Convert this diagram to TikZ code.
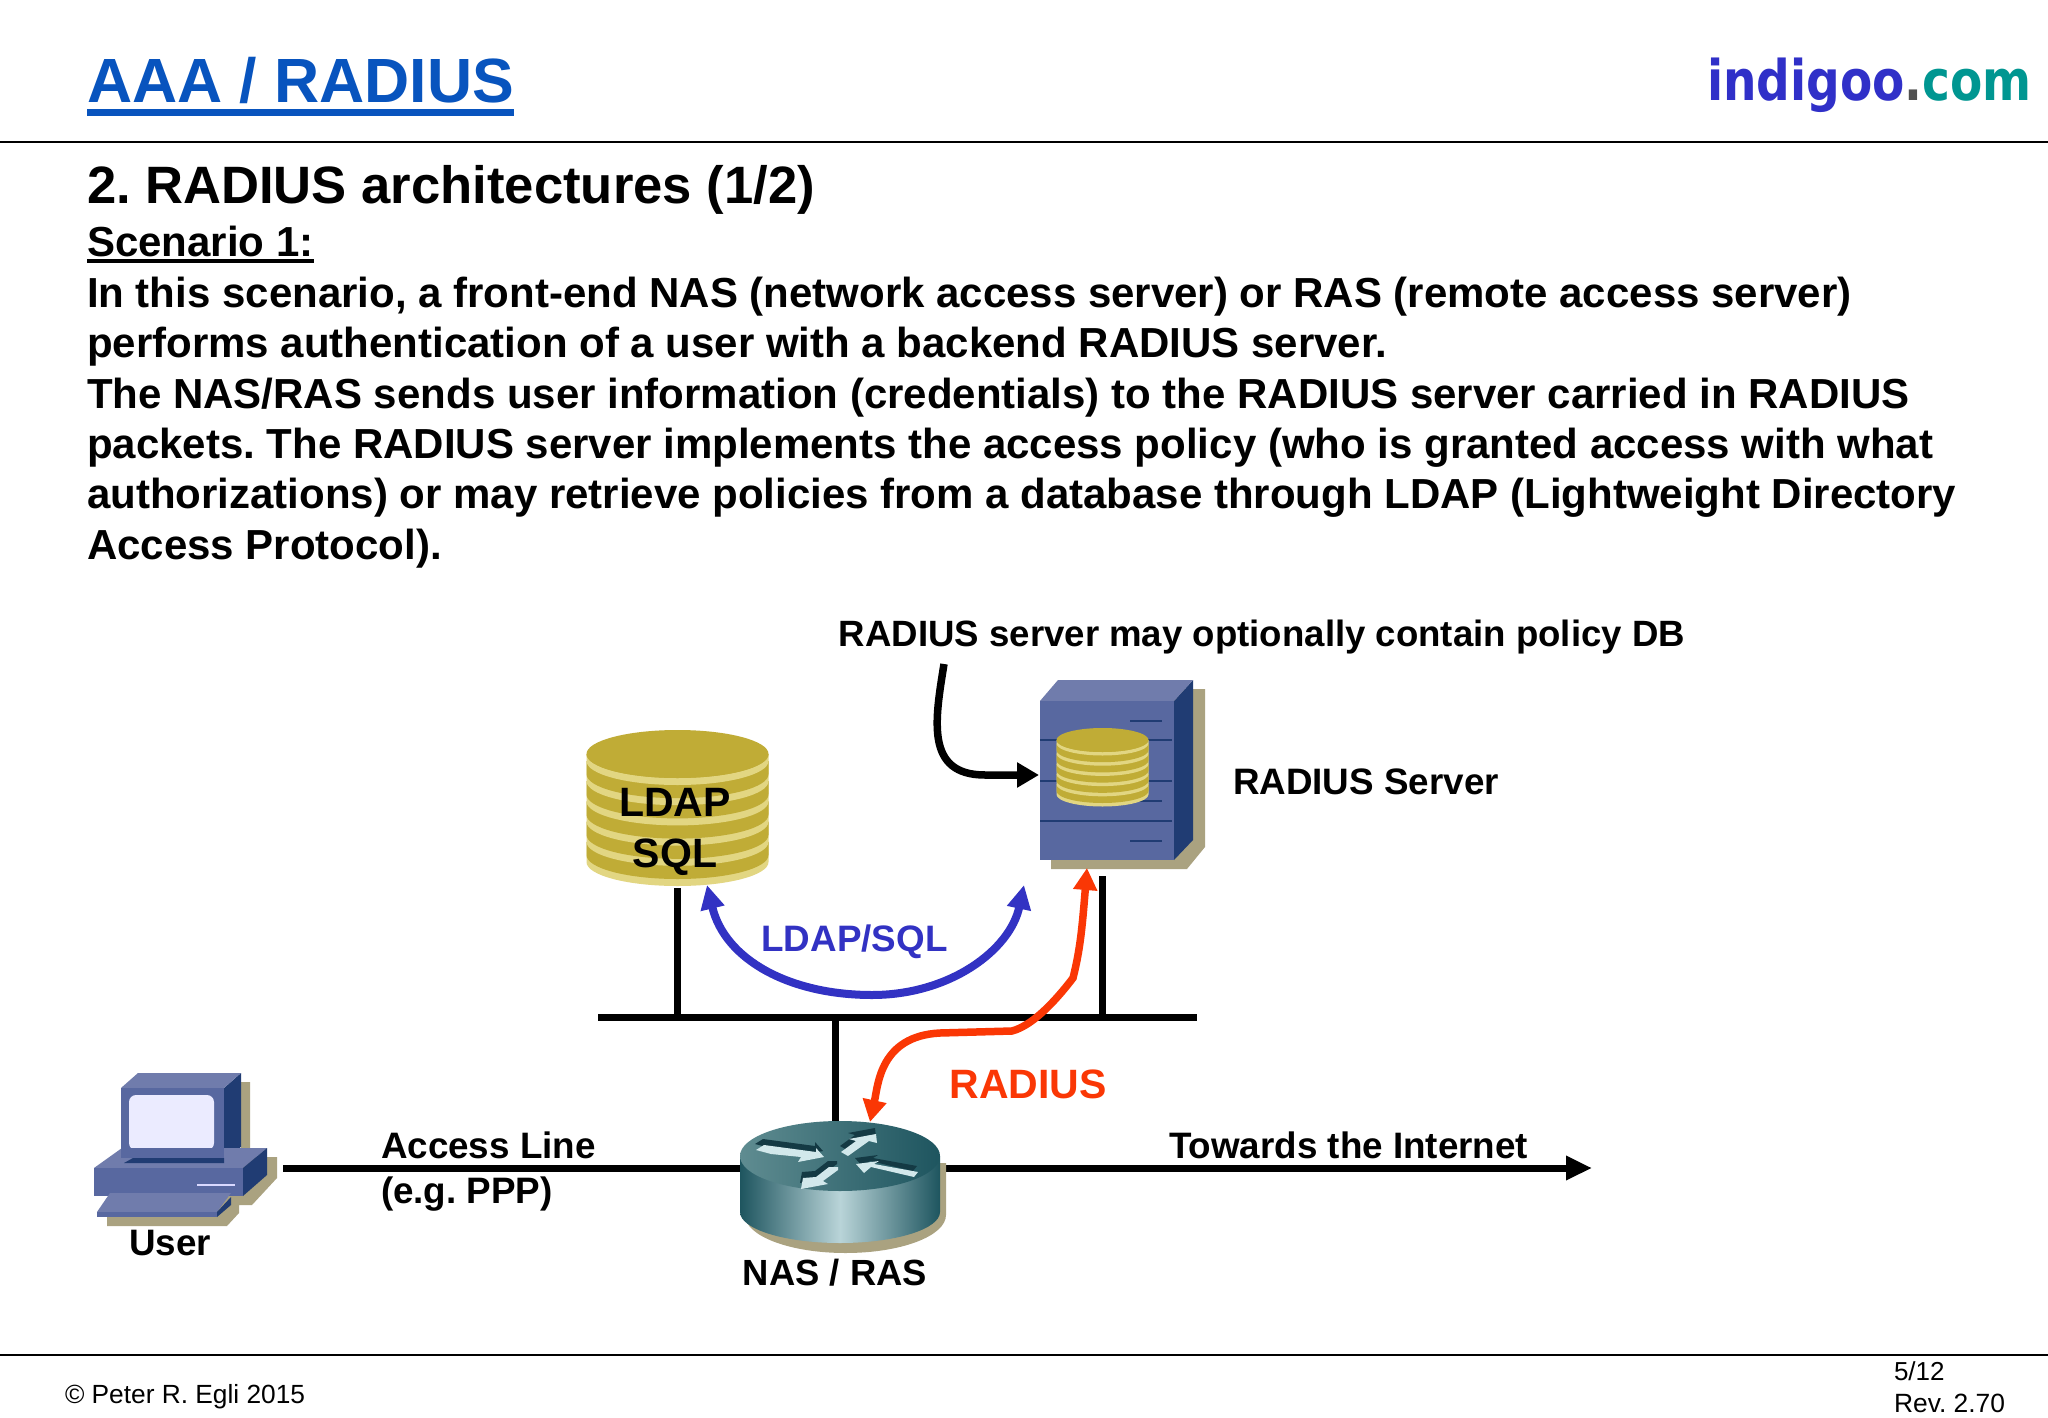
\documentclass[tikz,border=0pt]{standalone}
\usepackage{fontspec}
\setmainfont{Liberation Sans}
\newfontfamily\brandfont{DejaVu Sans}
\usetikzlibrary{arrows.meta}
\frenchspacing
\definecolor{titleblue}{RGB}{8,84,190}
\definecolor{indigo}{RGB}{48,48,200}
\definecolor{teal2}{RGB}{0,150,145}
\definecolor{dotgrey}{RGB}{80,80,80}
\definecolor{dbgold}{RGB}{192,172,54}
\definecolor{dblight}{RGB}{226,214,130}
\definecolor{blueface}{RGB}{88,104,160}
\definecolor{bluetop}{RGB}{112,124,172}
\definecolor{bluedark}{RGB}{32,60,115}
\definecolor{shadowc}{RGB}{170,162,128}
\definecolor{radred}{RGB}{250,55,5}
\definecolor{ldapblue}{RGB}{50,50,195}
\definecolor{rtdark}{RGB}{30,85,95}
\definecolor{rtmid}{RGB}{95,140,145}
\definecolor{rtlight}{RGB}{185,212,216}
\definecolor{rtarrow}{RGB}{210,232,235}
\definecolor{rtdeep}{RGB}{20,58,68}
\tikzset{
  txt/.style={inner sep=0pt,outer sep=0pt,anchor=base west,font=\bfseries\fontsize{#1}{#1}\selectfont},
  lab/.style={inner sep=0pt,outer sep=0pt,anchor=base,font=\bfseries\fontsize{#1}{#1}\selectfont},
  thin text/.style={inner sep=0pt,outer sep=0pt,anchor=base west,font=\fontsize{#1}{#1}\selectfont},
  bus/.style={line width=7pt,black},
  rule/.style={line width=2pt,black},
  slot/.style={bluedark,line width=2pt},
  rtshade/.style={fill=rtdeep},
  rtarr/.style={fill=rtarrow},
}
\newcommand{\dbstack}[7]{% cx, top centre y, rx, ry, spacing, layers, rim
  \foreach \k in {#6,...,1}{
    \pgfmathsetmacro{\Lb}{#2+#7+(\k-1)*#5}
    \pgfmathsetmacro{\Gb}{\Lb-#7}
    \pgfmathsetmacro{\Tb}{max(#2,\Lb-#5)}
    \fill[dblight] ({#1-#3},\Tb) -- ({#1-#3},\Lb) arc[start angle=180,end angle=0,x radius=#3,y radius=#4] -- ({#1+#3},\Tb) -- cycle;
    \fill[dbgold] ({#1-#3},\Tb) -- ({#1-#3},\Gb) arc[start angle=180,end angle=0,x radius=#3,y radius=#4] -- ({#1+#3},\Tb) -- cycle;
  }
  \fill[dbgold] (#1,#2) ellipse[x radius=#3,y radius=#4];
}
\begin{document}
\begin{tikzpicture}[x=1pt,y=-1pt]
\useasboundingbox (0,0) rectangle (2048,1418);
\fill[white] (0,0) rectangle (2048,1418);
% header
\node[txt=62.5,text=titleblue] (title) at (87,103) {AAA / RADIUS};
\coordinate (ul) at (87,112.5); \coordinate (ur) at (514,112.5);
\draw[titleblue,line width=6.5pt] (ul) -- (ur);
\node[inner sep=0pt,anchor=base west,xscale=0.84,font=\brandfont\bfseries\fontsize{56}{56}\selectfont] (brand) at (1707,101) {\textcolor{indigo}{indigoo}\textcolor{dotgrey}{.}\textcolor{teal2}{com}};
\coordinate (rl) at (0,142); \coordinate (rr) at (2048,142);
\draw[rule] (rl) -- (rr);
% body text
\node[txt=52.6] (h) at (87,203) {2. RADIUS architectures (1/2)};
\node[txt=42] (s) at (87,256) {Scenario 1:};
\coordinate (sl) at (87,261); \coordinate (sr) at (314,261);
\draw[line width=3.5pt] (sl) -- (sr);
\node[txt=42] (l1) at (87,307) {In this scenario, a front-end NAS (network access server) or RAS (remote access server)};
\node[txt=42] (l2) at (87,357.5) {performs authentication of a user with a backend RADIUS server.};
\node[txt=42] (l3) at (87,408) {The NAS/RAS sends user information (credentials) to the RADIUS server carried in RADIUS};
\node[txt=42] (l4) at (87,458) {packets. The RADIUS server implements the access policy (who is granted access with what};
\node[txt=42] (l5) at (87,508.5) {authorizations) or may retrieve policies from a database through LDAP (Lightweight Directory};
\node[txt=42] (l6) at (87,559) {Access Protocol).};
% network lines
\coordinate (busl) at (598,1017); \coordinate (busr) at (1197,1017);
\coordinate (ldapdrop) at (677,888); \coordinate (ldapbus) at (677,1017);
\coordinate (srvdrop) at (1102,876); \coordinate (srvbus) at (1102,1017);
\coordinate (nasbus) at (835,1017); \coordinate (nastop) at (835,1130);
\draw[bus] (ldapdrop) -- (ldapbus);
\draw[bus] (srvdrop) -- (srvbus);
\draw[bus] (nasbus) -- (nastop);
\draw[bus] (busl) -- (busr);
\coordinate (aleft) at (283,1168); \coordinate (aright) at (1592,1168);
\draw[line width=7pt,-{Triangle[length=26pt,width=23pt]}] (aleft) -- (aright);
% DB
\dbstack{677.5}{754}{91}{24}{20.2}{6}{7}
\node[lab=41] (ldap) at (675,816) {LDAP};
\node[lab=41] (sql) at (675,867) {SQL};
% Server
\fill[shadowc] (1058,689) -- (1205,689) -- (1205,847) -- (1187,869) -- (1051,869) -- (1051,700) -- cycle;
\fill[bluedark] (1174,701) -- (1193,680) -- (1193,840) -- (1174,860) -- cycle;
\fill[bluetop] (1040,701) -- (1058,680) -- (1193,680) -- (1174,701) -- cycle;
\fill[blueface] (1040,701) rectangle (1174,860);
\draw[slot] (1040,740) -- (1172,740);
\draw[slot] (1040,781) -- (1172,781);
\draw[slot] (1040,821) -- (1172,821);
\draw[slot] (1130,721) -- (1162,721);
\draw[slot] (1130,801) -- (1162,801);
\draw[slot] (1130,841) -- (1162,841);
\dbstack{1102.5}{740}{46}{12}{10.2}{6}{3.5}
% Computer
\fill[shadowc] (241,1082) -- (250,1082) -- (250,1157) -- (277,1157) -- (277,1178) -- (252,1205) -- (239,1205) -- (239,1213) -- (227,1226) -- (107,1226) -- (107,1215) -- (241,1150) -- cycle;
\fill[bluedark] (224,1088) -- (241,1073) -- (241,1147) -- (224,1158) -- cycle;
\fill[bluetop] (121,1088) -- (138,1073) -- (241,1073) -- (224,1088) -- cycle;
\fill[blueface] (121,1088) rectangle (224,1158);
\fill[white!92!blue,rounded corners=7pt] (129,1095) rectangle (214,1150);
\fill[bluetop] (94,1168) -- (122,1148) -- (267,1148) -- (243,1168) -- cycle;
\fill[blueface] (121,1148) rectangle (224,1158);
\fill[bluedark] (124,1163) -- (133,1158) -- (224,1158) -- (224,1163) -- cycle;
\fill[bluedark] (243,1168) -- (267,1148) -- (267,1175) -- (243,1196) -- cycle;
\fill[blueface] (94,1168) rectangle (243,1196);
\draw[white!85!blue,line width=2.5pt] (197,1185) -- (235,1185);
\fill[bluetop] (97,1212) -- (110,1193) -- (231,1193) -- (217,1212) -- cycle;
\fill[blueface] (97,1212) rectangle (217,1217);
\fill[bluedark] (217,1212) -- (231,1197) -- (231,1205) -- (217,1217) -- cycle;
% Router
\fill[shadowc] (745,1215) arc[start angle=180,end angle=0,x radius=100.5,y radius=38] -- (946,1163) -- (745,1163) -- cycle;
\shade[left color=rtdark,right color=rtdark,middle color=rtlight] (740,1156) -- (740,1212) arc[start angle=180,end angle=0,x radius=100,y radius=31] -- (940,1156) -- cycle;
\shade[left color=rtmid,right color=rtdark] (840,1156) ellipse[x radius=100,y radius=35];
\begin{scope}[yshift=2pt]
\fill[rtshade] (755,1146) -- (763,1141) -- (815,1148) -- (815,1144) -- (823,1153) -- (797,1158) -- (800,1153) -- (770,1150) -- cycle;
\fill[rtshade] (840,1148) -- (855,1137) -- (848,1135) -- (875,1130) -- (876,1139) -- (868,1137) -- (847,1152) -- cycle;
\fill[rtshade] (855,1160) -- (878,1157) -- (873,1160) -- (917,1168) -- (913,1173) -- (870,1163) -- (863,1169) -- cycle;
\fill[rtshade] (837,1163) -- (828,1163) -- (815,1173) -- (802,1174) -- (800,1185) -- (827,1180) -- (822,1177) -- (837,1166) -- cycle;
\end{scope}
\begin{scope}[yshift=-1pt,xshift=1pt]
\fill[rtarr] (755,1149) -- (763,1144) -- (815,1151) -- (815,1147) -- (823,1156) -- (797,1161) -- (800,1156) -- (770,1153) -- cycle;
\fill[rtarr] (840,1151) -- (855,1140) -- (848,1138) -- (875,1133) -- (876,1142) -- (868,1140) -- (847,1155) -- cycle;
\fill[rtarr] (855,1163) -- (878,1160) -- (873,1163) -- (917,1171) -- (913,1176) -- (870,1166) -- (863,1172) -- cycle;
\fill[rtarr] (837,1166) -- (828,1166) -- (815,1176) -- (802,1177) -- (800,1188) -- (827,1183) -- (822,1180) -- (837,1169) -- cycle;
\end{scope}
% labels and arrows
\node[lab=36.6] (cap) at (1262,646) {RADIUS server may optionally contain policy DB};
\coordinate (capstart) at (944,664);
\coordinate (srvport) at (1039,775);
\draw[line width=7.5pt,-{Triangle[length=22pt,width=24pt]}] (capstart) .. controls (935,720) and (925,775) .. (985,775) -- (srvport);
\node[txt=36.8] (rs) at (1233,794) {RADIUS Server};
\coordinate (bl) at (707,885); \coordinate (br) at (1024,885);
\draw[ldapblue,line width=8pt,{Triangle[length=24pt,width=23pt]}-{Triangle[length=24pt,width=23pt]}] (bl) .. controls (725,960) and (790,995) .. (872,995) .. controls (950,995) and (1010,950) .. (br);
\node[lab=36.8,text=ldapblue] (lsql) at (854.5,951) {LDAP/SQL};
\coordinate (rnas) at (870,1122); \coordinate (rsrv) at (1087,868);
\draw[radred,line width=7.5pt,{Triangle[length=22pt,width=23pt]}-{Triangle[length=22pt,width=23pt]}] (rnas) .. controls (878,1085) and (880,1036) .. (940,1033) -- (1012,1031) .. controls (1035,1025) and (1060,995) .. (1073,978) .. controls (1080,950) and (1082,930) .. (rsrv);
\node[lab=41,text=radred] (rad) at (1028,1098) {RADIUS};
\node[txt=36.8] (al) at (381,1158.5) {Access Line};
\node[txt=36.8] (ppp) at (381,1203) {(e.g. PPP)};
\node[txt=36.8] (int) at (1169,1158.5) {Towards the Internet};
\node[lab=36.8] (user) at (170,1255) {User};
\node[lab=36.4] (nas) at (835,1285.5) {NAS / RAS};
% footer
\coordinate (fl) at (0,1354.5); \coordinate (fr) at (2048,1354.5);
\draw[rule] (fl) -- (fr);
\node[thin text=26.3] (copy) at (65,1403) {© Peter R. Egli 2015};
\node[thin text=26] (pg) at (1894,1380) {5/12};
\node[thin text=26.4] (rev) at (1894,1412) {Rev. 2.70};
\end{tikzpicture}
\end{document}
